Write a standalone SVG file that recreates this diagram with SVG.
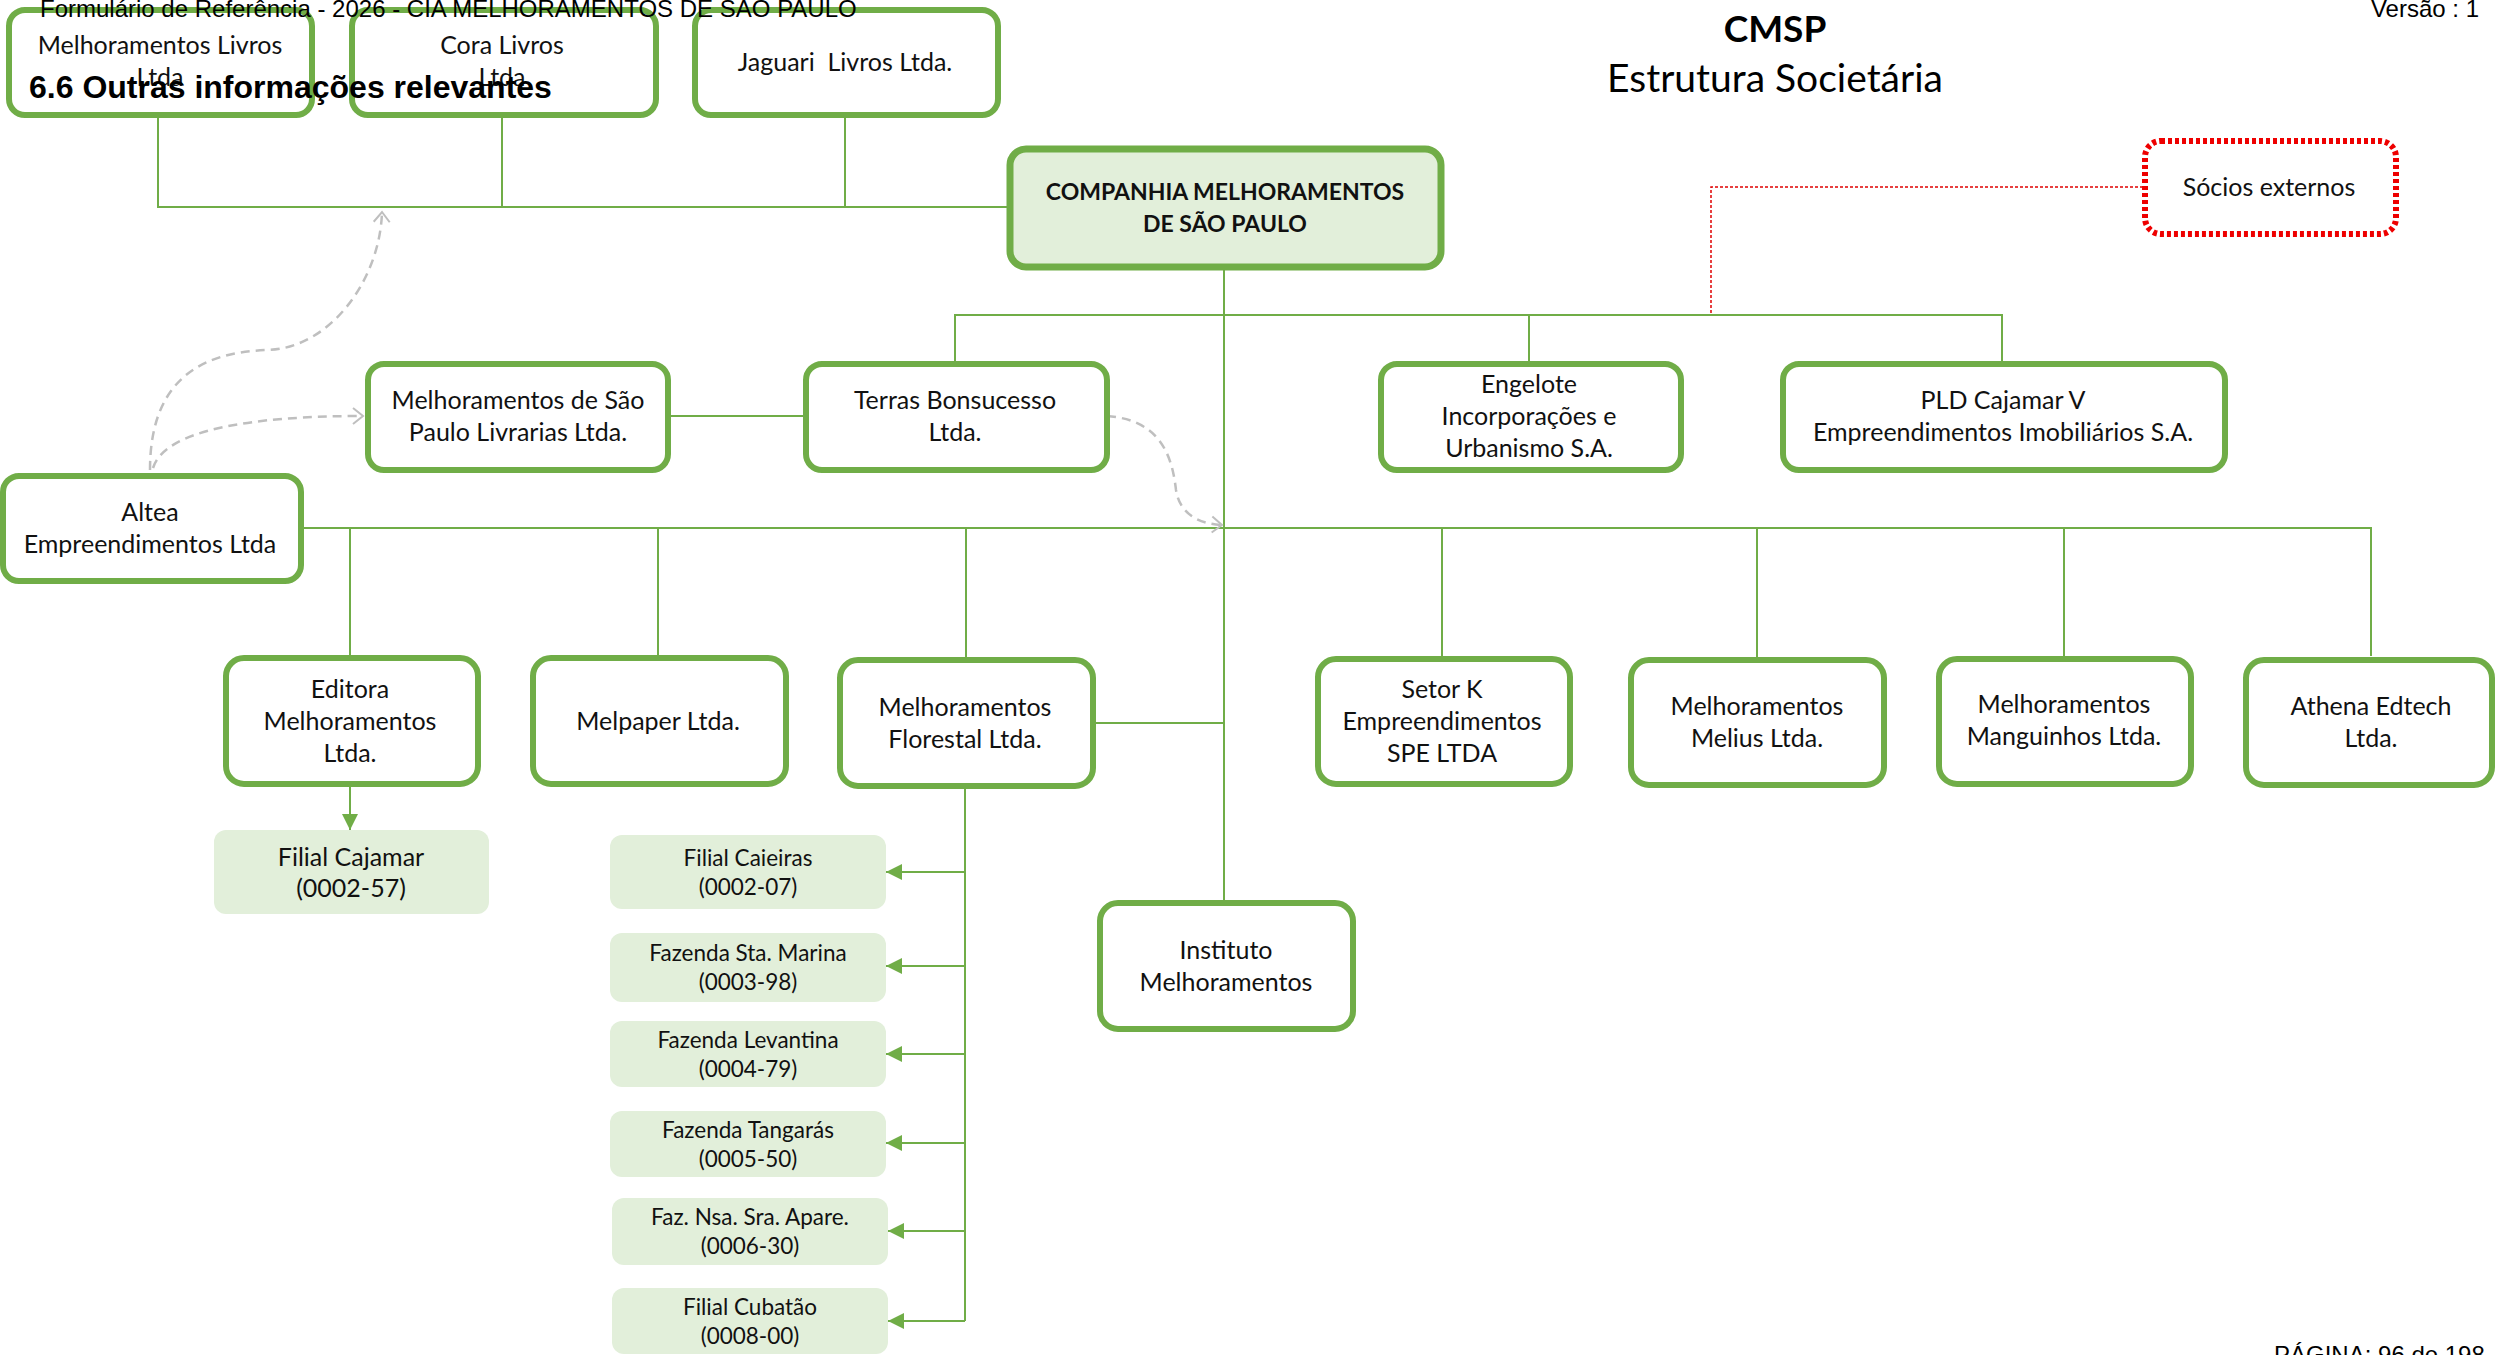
<svg xmlns="http://www.w3.org/2000/svg" width="2496" height="1355" viewBox="0 0 2496 1355">
<style>
.box{fill:#fff;stroke:#70ad47;stroke-width:6}
.main{fill:#e2efda;stroke:#70ad47;stroke-width:7}
.sub{fill:#e2efda;stroke:none}
.t{font-family:Lato,"Liberation Sans",sans-serif;font-size:25px;fill:#111;text-anchor:middle}
.ts{font-family:Lato,"Liberation Sans",sans-serif;font-size:22.5px;fill:#111;text-anchor:middle}
.tb{font-family:Lato,"Liberation Sans",sans-serif;font-size:23px;font-weight:bold;fill:#111;text-anchor:middle}
.hdr{font-family:"Liberation Sans",Arial,sans-serif;font-size:24px;fill:#000}
.ln{fill:none;stroke:#70ad47;stroke-width:2}
.arr{fill:none;stroke:#70ad47;stroke-width:2;marker-end:url(#ga)}
.gd{fill:none;stroke:#bfbfbf;stroke-width:2.5;stroke-dasharray:9 6;marker-end:url(#gc)}
</style>
<defs>
<marker id="ga" markerUnits="userSpaceOnUse" markerWidth="18" markerHeight="18" refX="16" refY="8" orient="auto"><path d="M0,0 L16,8 L0,16 Z" fill="#70ad47"/></marker>
<marker id="gc" markerUnits="userSpaceOnUse" markerWidth="16" markerHeight="20" refX="12" refY="10" orient="auto"><path d="M2,2 L12,10 L2,18" fill="none" stroke="#bfbfbf" stroke-width="2"/></marker>
</defs>
<rect width="2496" height="1355" fill="#fff"/>

<g id="connectors">
<path class="ln" d="M158,117 V207 H1008 M502,117 V207 M845,117 V207"/>
<path class="ln" d="M1224,269 V900"/>
<path class="ln" d="M955,361 V315 H2002 V361 M1529,315 V361"/>
<path class="ln" d="M668,416 H803"/>
<path class="ln" d="M301,528 H2371 V656 M350,528 V655 M658,528 V655 M966,528 V657 M1442,528 V656 M1757,528 V657 M2064,528 V656"/>
<path class="ln" d="M1093,723 H1224"/>
<path class="arr" d="M350,787 V830"/>
<path class="ln" d="M965,789 V1321"/>
<path class="arr" d="M965,872 H886"/>
<path class="arr" d="M965,966 H886"/>
<path class="arr" d="M965,1054 H886"/>
<path class="arr" d="M965,1143 H886"/>
<path class="arr" d="M965,1231 H888"/>
<path class="arr" d="M965,1321 H888"/>
<path d="M2143,187 H1711 V315" fill="none" stroke="#e00000" stroke-width="1.5" stroke-dasharray="3 2"/>
<path class="gd" d="M150,470 C150,390 190,352 268,350 C330,348 380,280 382,212"/>
<path class="gd" d="M153,468 C165,430 250,416 363,416"/>
<path class="gd" d="M1107,416 C1160,420 1172,455 1176,490 C1180,515 1200,524 1222,525"/>
</g>

<g id="n-livros"><rect class="box" x="9" y="10" width="303" height="105" rx="16"/><text class="t" x="160" y="54">Melhoramentos Livros</text><text class="t" x="160" y="86">Ltda</text></g>
<g id="n-cora"><rect class="box" x="352" y="10" width="304" height="105" rx="16"/><text class="t" x="502" y="54">Cora Livros</text><text class="t" x="502" y="86">Ltda</text></g>
<g id="n-jaguari"><rect class="box" x="695" y="10" width="303" height="105" rx="16"/><text class="t" x="845" y="71" xml:space="preserve">Jaguari  Livros Ltda.</text></g>

<g id="n-main"><rect class="main" x="1010" y="149" width="431" height="118" rx="16"/><text class="tb" x="1225" y="200">COMPANHIA MELHORAMENTOS</text><text class="tb" x="1225" y="232">DE SÃO PAULO</text></g>
<g id="n-socios"><rect x="2145" y="141" width="251" height="93" rx="16" fill="#fff" stroke="#ee0000" stroke-width="6" stroke-dasharray="4 3"/><text class="t" x="2269" y="196">Sócios externos</text></g>

<g id="n-livrarias"><rect class="box" x="368" y="364" width="300" height="106" rx="16"/><text class="t" x="518" y="409">Melhoramentos de São</text><text class="t" x="518" y="441">Paulo Livrarias Ltda.</text></g>
<g id="n-terras"><rect class="box" x="806" y="364" width="301" height="106" rx="16"/><text class="t" x="955" y="409">Terras Bonsucesso</text><text class="t" x="955" y="441">Ltda.</text></g>
<g id="n-engelote"><rect class="box" x="1381" y="364" width="300" height="106" rx="16"/><text class="t" x="1529" y="393">Engelote</text><text class="t" x="1529" y="425">Incorporações e</text><text class="t" x="1529" y="457">Urbanismo S.A.</text></g>
<g id="n-pld"><rect class="box" x="1783" y="364" width="442" height="106" rx="16"/><text class="t" x="2003" y="409">PLD Cajamar V</text><text class="t" x="2003" y="441">Empreendimentos Imobiliários S.A.</text></g>
<g id="n-altea"><rect class="box" x="3" y="476" width="298" height="105" rx="16"/><text class="t" x="150" y="521">Altea</text><text class="t" x="150" y="553">Empreendimentos Ltda</text></g>

<g id="n-editora"><rect class="box" x="226" y="658" width="252" height="126" rx="18"/><text class="t" x="350" y="698">Editora</text><text class="t" x="350" y="730">Melhoramentos</text><text class="t" x="350" y="762">Ltda.</text></g>
<g id="n-melpaper"><rect class="box" x="533" y="658" width="253" height="126" rx="18"/><text class="t" x="658" y="730">Melpaper Ltda.</text></g>
<g id="n-florestal"><rect class="box" x="840" y="660" width="253" height="126" rx="18"/><text class="t" x="965" y="716">Melhoramentos</text><text class="t" x="965" y="748">Florestal Ltda.</text></g>
<g id="n-setork"><rect class="box" x="1318" y="659" width="252" height="125" rx="18"/><text class="t" x="1442" y="698">Setor K</text><text class="t" x="1442" y="730">Empreendimentos</text><text class="t" x="1442" y="762">SPE LTDA</text></g>
<g id="n-melius"><rect class="box" x="1631" y="660" width="253" height="125" rx="18"/><text class="t" x="1757" y="715">Melhoramentos</text><text class="t" x="1757" y="747">Melius Ltda.</text></g>
<g id="n-manguinhos"><rect class="box" x="1939" y="659" width="252" height="125" rx="18"/><text class="t" x="2064" y="713">Melhoramentos</text><text class="t" x="2064" y="745">Manguinhos Ltda.</text></g>
<g id="n-athena"><rect class="box" x="2246" y="660" width="246" height="125" rx="18"/><text class="t" x="2371" y="715">Athena Edtech</text><text class="t" x="2371" y="747">Ltda.</text></g>
<g id="n-instituto"><rect class="box" x="1100" y="903" width="253" height="126" rx="18"/><text class="t" x="1226" y="959">Instituto</text><text class="t" x="1226" y="991">Melhoramentos</text></g>

<g id="n-cajamar"><rect class="sub" x="214" y="830" width="275" height="84" rx="12"/><text class="t" x="351" y="866">Filial Cajamar</text><text class="t" x="351" y="897">(0002-57)</text></g>
<g id="n-caieiras"><rect class="sub" x="610" y="835" width="276" height="74" rx="12"/><text class="ts" x="748" y="866">Filial Caieiras</text><text class="ts" x="748" y="895">(0002-07)</text></g>
<g id="n-marina"><rect class="sub" x="610" y="933" width="276" height="69" rx="12"/><text class="ts" x="748" y="961">Fazenda Sta. Marina</text><text class="ts" x="748" y="990">(0003-98)</text></g>
<g id="n-levantina"><rect class="sub" x="610" y="1021" width="276" height="66" rx="12"/><text class="ts" x="748" y="1048">Fazenda Levantina</text><text class="ts" x="748" y="1077">(0004-79)</text></g>
<g id="n-tangaras"><rect class="sub" x="610" y="1111" width="276" height="66" rx="12"/><text class="ts" x="748" y="1138">Fazenda Tangarás</text><text class="ts" x="748" y="1167">(0005-50)</text></g>
<g id="n-aparecida"><rect class="sub" x="612" y="1198" width="276" height="67" rx="12"/><text class="ts" x="750" y="1225">Faz. Nsa. Sra. Apare.</text><text class="ts" x="750" y="1254">(0006-30)</text></g>
<g id="n-cubatao"><rect class="sub" x="612" y="1288" width="276" height="66" rx="12"/><text class="ts" x="750" y="1315">Filial Cubatão</text><text class="ts" x="750" y="1344">(0008-00)</text></g>

<g id="titles">
<text class="hdr" x="40" y="17">Formulário de Referência - 2026 - CIA MELHORAMENTOS DE SAO PAULO</text>
<text class="hdr" x="2479" y="17" text-anchor="end">Versão : 1</text>
<text x="29" y="98" font-family="'Liberation Sans',Arial,sans-serif" font-size="32" font-weight="bold" fill="#000">6.6 Outras informações relevantes</text>
<text x="1775" y="42" font-family="Lato,'Liberation Sans',sans-serif" font-size="37" font-weight="bold" fill="#000" text-anchor="middle">CMSP</text>
<text x="1775" y="92" font-family="Lato,'Liberation Sans',sans-serif" font-size="39" fill="#000" text-anchor="middle">Estrutura Societária</text>
<text class="hdr" x="2274" y="1363">PÁGINA: 96 de 198</text>
</g>
</svg>
